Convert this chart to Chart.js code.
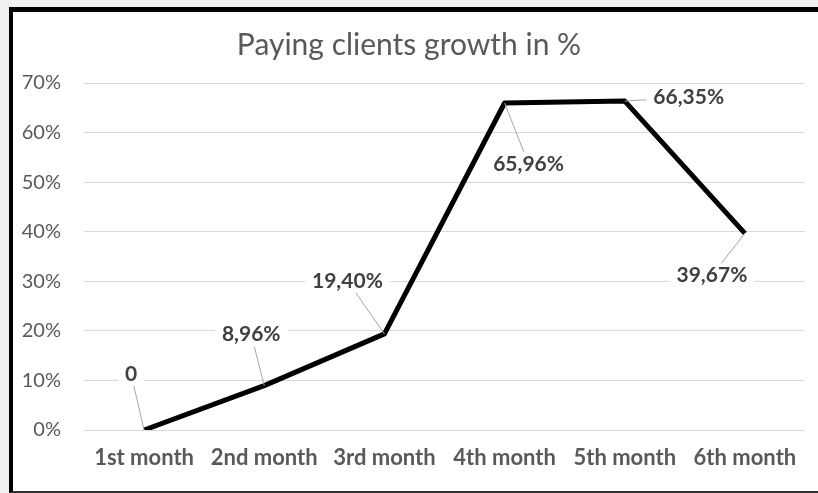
<!DOCTYPE html>
<html><head><meta charset="utf-8">
<script src="https://cdn.jsdelivr.net/npm/chart.js@4/dist/chart.umd.min.js"></script>
<style>
html,body{margin:0;padding:0;background:#f0f0f0;width:818px;height:493px;overflow:hidden}
#frame{position:absolute;left:9px;top:7px;width:805px;height:479px;border-left:4px solid #000;border-top:5px solid #000;border-bottom:2px solid #333;background:#fff}
#wrap{position:absolute;left:0;top:0;width:805px;height:479px}
</style></head><body>
<div id="frame"><div id="wrap"><canvas id="c"></canvas></div></div>
<script>
const categories = ['1st month','2nd month','3rd month','4th month','5th month','6th month'];
const growthPercent = [0, 8.96, 19.40, 65.96, 66.35, 39.67];
const yTicks = [0, 10, 20, 30, 40, 50, 60, 70];
const chartTitle = 'Paying clients growth in %';

// label placement: pixel offset of each data label's centre from its point
const labelOffsets = [[-13,-56],[-13,-51],[-37,-53],[24,61],[64,-4],[-33,42]];

const FONT = 'Lato, "Open Sans", sans-serif';
const LABEL_FONT = 'bold 21px ' + FONT;

function fmt(v){ return v === 0 ? '0' : v.toFixed(2).replace('.', ',') + '%'; }

function layoutLabels(chart){
  const meta = chart.getDatasetMeta(0);
  const ctx = chart.ctx;
  ctx.save();
  ctx.font = LABEL_FONT;
  const out = meta.data.map((pt, i) => {
    const t = fmt(growthPercent[i]);
    const w = ctx.measureText(t).width;
    const cx = pt.x + labelOffsets[i][0], cy = pt.y + labelOffsets[i][1];
    return {t, cx, cy, hw: w/2 + 7, hh: 12, px: pt.x, py: pt.y};
  });
  ctx.restore();
  return out;
}

const leaderLabels = {
  id: 'leaderLabels',
  beforeDatasetsDraw(chart){
    const ctx = chart.ctx;
    ctx.save();
    ctx.fillStyle = '#ffffff';
    layoutLabels(chart).forEach(l => ctx.fillRect(l.cx - l.hw, l.cy - l.hh, l.hw*2, l.hh*2));
    ctx.restore();
  },
  afterDatasetsDraw(chart){
    const ctx = chart.ctx;
    ctx.save();
    layoutLabels(chart).forEach(l => {
      const dx = l.px - l.cx, dy = l.py - l.cy;
      const s = Math.min(dx ? l.hw/Math.abs(dx) : Infinity, dy ? l.hh/Math.abs(dy) : Infinity);
      const ex = l.cx + dx*s, ey = l.cy + dy*s;
      ctx.strokeStyle = '#a6a6a6';
      ctx.lineWidth = 1;
      ctx.beginPath();
      ctx.moveTo(l.px, l.py);
      ctx.lineTo(ex, ey);
      ctx.stroke();
      ctx.font = LABEL_FONT;
      ctx.fillStyle = '#404040';
      ctx.textAlign = 'center';
      ctx.textBaseline = 'middle';
      ctx.fillText(l.t, l.cx, l.cy);
    });
    ctx.restore();
  }
};

new Chart(document.getElementById('c'), {
  type: 'line',
  data: {
    labels: categories,
    datasets: [{
      data: growthPercent,
      borderColor: '#000000',
      borderWidth: 5,
      pointRadius: 0,
      tension: 0,
      borderJoinStyle: 'round',
      borderCapStyle: 'butt'
    }]
  },
  options: {
    responsive: true,
    maintainAspectRatio: false,
    animation: false,
    layout: {padding: {left: 0, right: 13, top: 0, bottom: 0}},
    plugins: {
      legend: {display: false},
      tooltip: {enabled: false},
      title: {
        display: true,
        text: chartTitle,
        color: '#595959',
        font: {family: FONT, size: 30, weight: 'normal'},
        padding: {top: 15, bottom: 20}
      }
    },
    scales: {
      x: {
        offset: true,
        grid: {display: false, drawTicks: false},
        border: {display: false},
        ticks: {color: '#595959', font: {family: FONT, size: 22, weight: 'bold'}, padding: 15, maxRotation: 0, autoSkip: false},
        afterFit(s){ s.height = 61; }
      },
      y: {
        min: 0, max: 70,
        grid: {color: '#d9d9d9', lineWidth: 1, drawTicks: false},
        border: {display: false},
        ticks: {color: '#595959', font: {family: FONT, size: 20}, padding: 23, callback: v => v + '%'},
        afterBuildTicks(s){ s.ticks = yTicks.map(v => ({value: v})); },
        afterFit(s){ s.width = 71; }
      }
    }
  },
  plugins: [leaderLabels]
});
</script>
</body></html>
